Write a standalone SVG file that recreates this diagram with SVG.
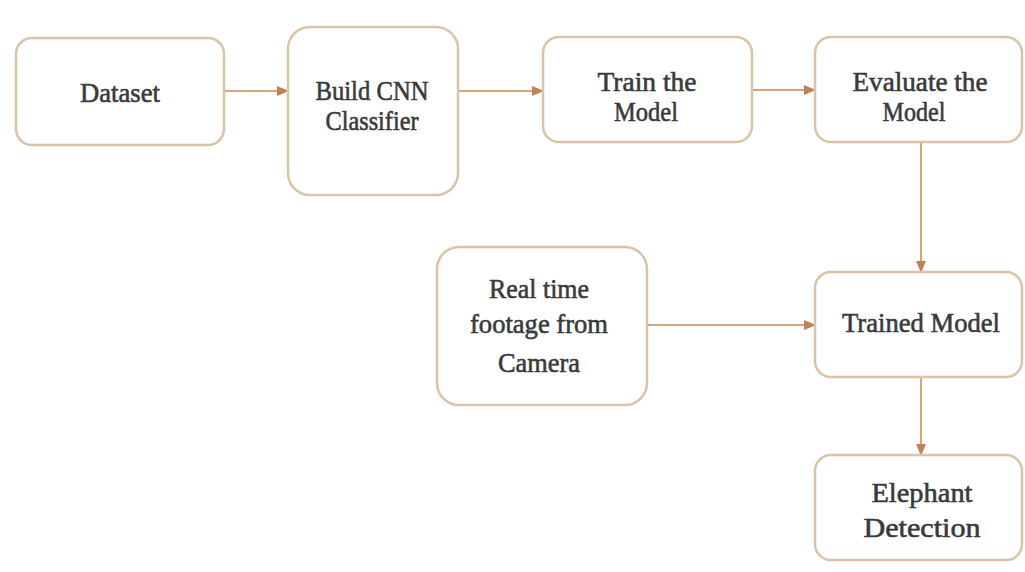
<svg xmlns="http://www.w3.org/2000/svg" width="1025" height="572" viewBox="0 0 1025 572">
<style>
.box{fill:#ffffff;stroke:#d9c4a8;stroke-width:2.5}
.lbl{font-family:"Liberation Serif","Times New Roman",serif;font-size:28px;fill:#3a3a3a;stroke:#3a3a3a;stroke-width:0.6;text-anchor:middle}
.con{stroke:#d6a47c;stroke-width:2;fill:none}
</style>
<defs>
<marker id="ah" markerWidth="12" markerHeight="10" refX="11" refY="5" orient="auto" markerUnits="userSpaceOnUse">
<path d="M0,0 L12,5 L0,10 Z" fill="#bf8256"/>
</marker>
</defs>
<rect width="1025" height="572" fill="#ffffff"/>
<g id="connectors">
<line class="con" x1="225" y1="91" x2="288" y2="91" marker-end="url(#ah)"/>
<line class="con" x1="459" y1="91" x2="543" y2="91" marker-end="url(#ah)"/>
<line class="con" x1="753" y1="90" x2="815" y2="90" marker-end="url(#ah)"/>
<line class="con" x1="921" y1="143" x2="921" y2="272" marker-end="url(#ah)"/>
<line class="con" x1="648" y1="325" x2="815" y2="325" marker-end="url(#ah)"/>
<line class="con" x1="921" y1="378" x2="921" y2="455" marker-end="url(#ah)"/>
</g>
<g id="dataset">
<rect class="box" x="16" y="38" width="208" height="107" rx="16"/>
<text class="lbl" x="120" y="102" textLength="80" lengthAdjust="spacingAndGlyphs">Dataset</text>
</g>
<g id="build-cnn">
<rect class="box" x="288" y="27" width="170" height="168" rx="22"/>
<text class="lbl" x="372" y="100" textLength="113" lengthAdjust="spacingAndGlyphs">Build CNN</text>
<text class="lbl" x="372" y="130" textLength="93" lengthAdjust="spacingAndGlyphs">Classifier</text>
</g>
<g id="train">
<rect class="box" x="543" y="37" width="209" height="105" rx="16"/>
<text class="lbl" x="647" y="91" textLength="99" lengthAdjust="spacingAndGlyphs">Train the</text>
<text class="lbl" x="646" y="121" textLength="64" lengthAdjust="spacingAndGlyphs">Model</text>
</g>
<g id="evaluate">
<rect class="box" x="815" y="37" width="207" height="105" rx="16"/>
<text class="lbl" x="920" y="91" textLength="135" lengthAdjust="spacingAndGlyphs">Evaluate the</text>
<text class="lbl" x="914" y="121" textLength="63" lengthAdjust="spacingAndGlyphs">Model</text>
</g>
<g id="realtime">
<rect class="box" x="437" y="247" width="210" height="158" rx="22"/>
<text class="lbl" x="539" y="298" textLength="100" lengthAdjust="spacingAndGlyphs">Real time</text>
<text class="lbl" x="539" y="333" textLength="138" lengthAdjust="spacingAndGlyphs">footage from</text>
<text class="lbl" x="539" y="372" textLength="82" lengthAdjust="spacingAndGlyphs">Camera</text>
</g>
<g id="trained">
<rect class="box" x="815" y="272" width="207" height="105" rx="16"/>
<text class="lbl" x="921" y="332" textLength="158" lengthAdjust="spacingAndGlyphs">Trained Model</text>
</g>
<g id="elephant">
<rect class="box" x="815" y="455" width="207" height="105" rx="16"/>
<text class="lbl" x="922" y="502" textLength="101" lengthAdjust="spacingAndGlyphs">Elephant</text>
<text class="lbl" x="922" y="537" textLength="117" lengthAdjust="spacingAndGlyphs">Detection</text>
</g>
</svg>
